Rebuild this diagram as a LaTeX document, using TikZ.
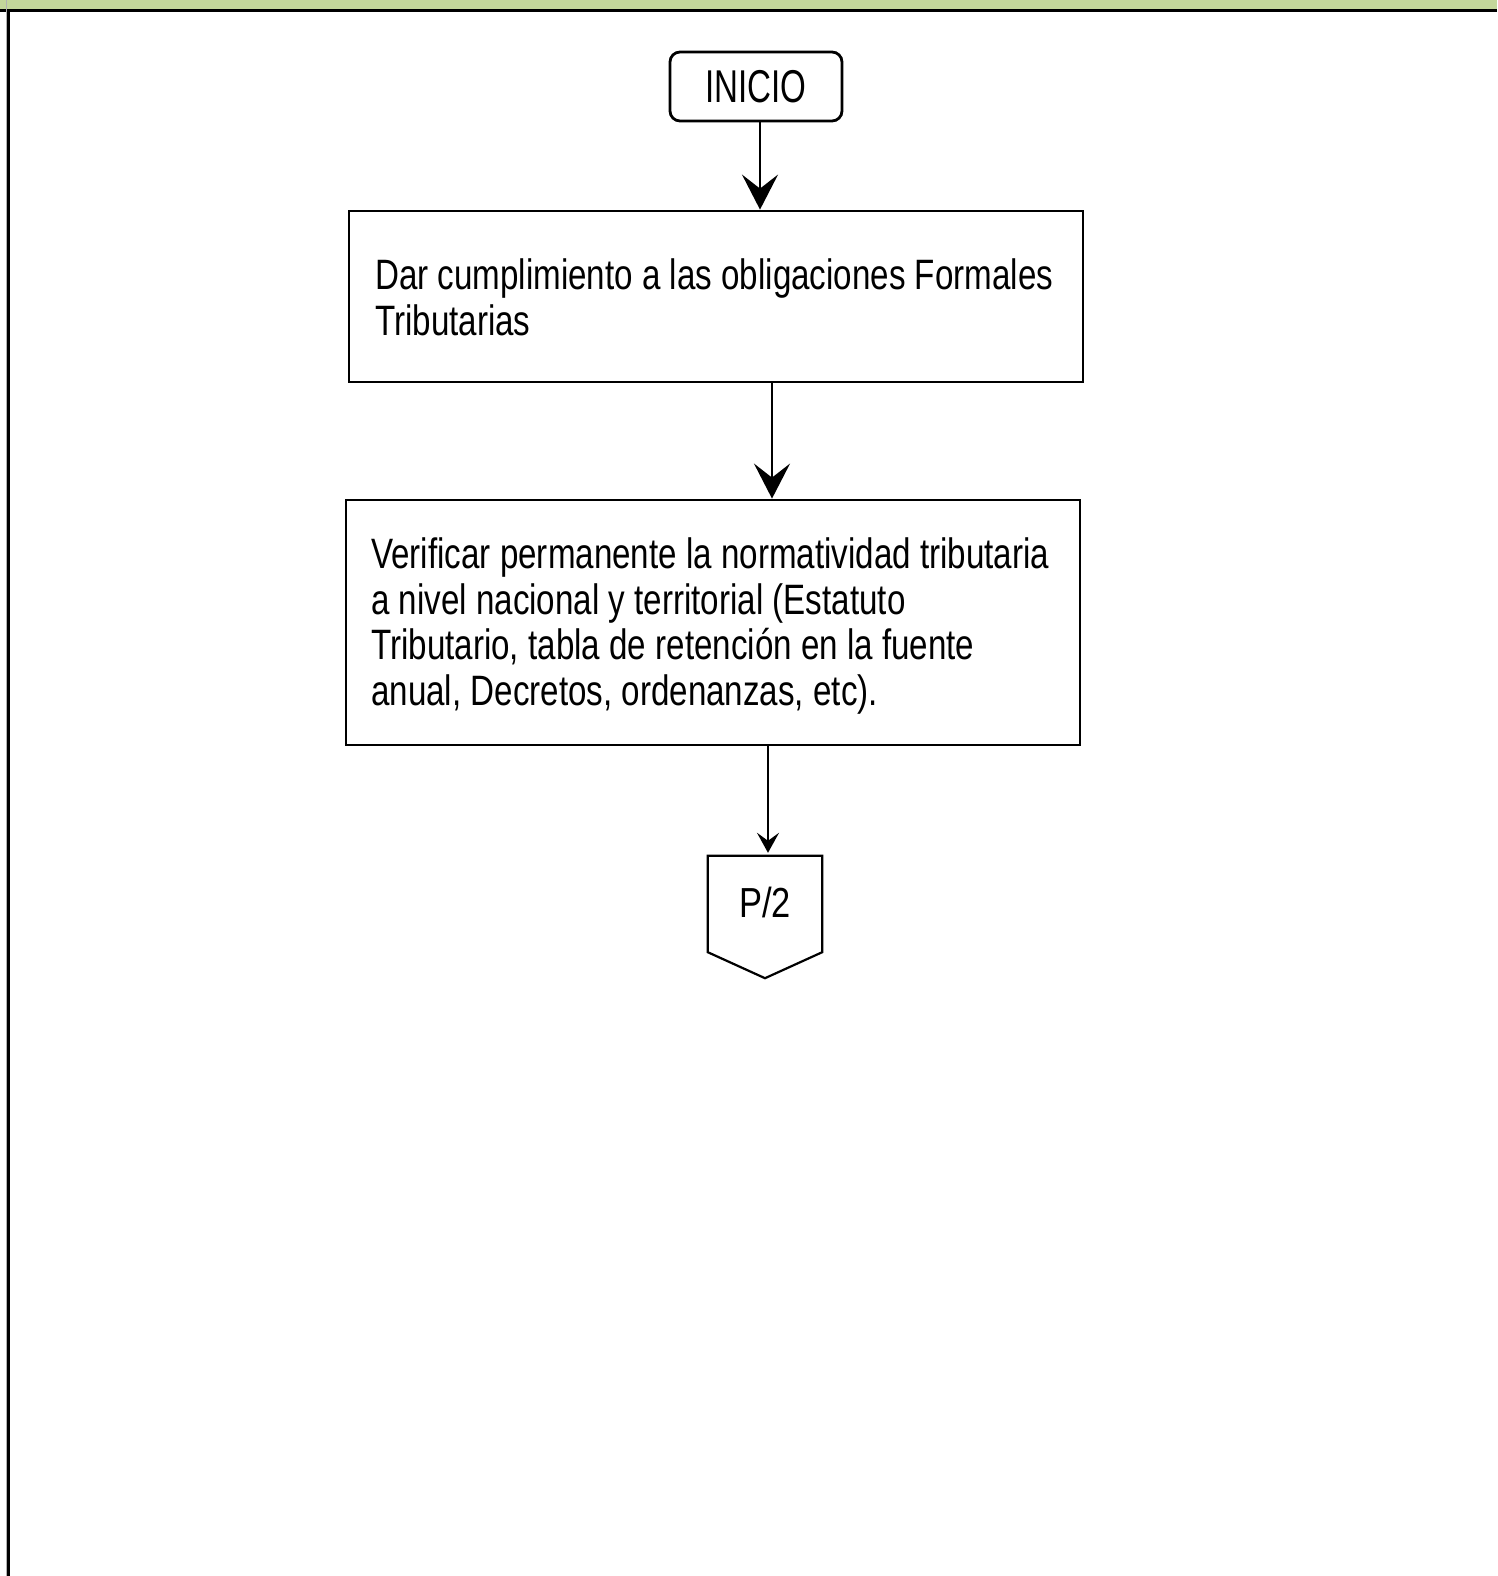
\documentclass[tikz,border=0pt]{standalone}
\usepackage{fontspec}
\usetikzlibrary{arrows.meta,calc}
\newfontfamily\boxfont[FakeStretch=0.78]{Liberation Sans}
\newfontfamily\startfont[FakeStretch=0.72]{Liberation Sans}
\newfontfamily\connfont[FakeStretch=0.82]{Liberation Sans}
\definecolor{bandgreen}{HTML}{C4D79B}
\tikzset{
  frame/.style={line width=3pt, draw=black},
  procbox/.style={draw=black, line width=2.8pt, rectangle, inner sep=0pt},
  startbox/.style={draw=black, line width=2.8pt, rectangle, rounded corners=10pt, inner sep=0pt,
    font=\startfont\fontsize{46}{50}\selectfont},
  boxtext/.style={anchor=base west, inner sep=0pt, font=\boxfont\fontsize{42.5}{46}\selectfont},
  conntext/.style={anchor=base, inner sep=0pt, font=\connfont\fontsize{42}{46}\selectfont},
  bigarrow/.style={line width=2.6pt, -{Stealth[length=35pt, width=36pt, inset=14pt]}},
  smallarrow/.style={line width=2.2pt, -{Stealth[length=20pt, width=22pt, inset=8pt]}}
}
\begin{document}
\begin{tikzpicture}[x=1pt,y=-1pt]
\useasboundingbox (0,0) rectangle (1497,1576);
% header band and frame
\fill[bandgreen] (0,0) rectangle (1497,10);
\draw[frame] (0,11) -- (1497,11);
\draw[frame] (8.5,10) -- (8.5,1576);
\draw[gray!60, line width=0.8pt] (6.3,0) -- (6.3,1576);

% nodes
\node[startbox, minimum width=172pt, minimum height=69pt] (inicio) at (756,86.5) {INICIO};
\node[procbox, minimum width=734pt, minimum height=171pt] (box1) at (716,296.5) {};
\node[procbox, minimum width=734pt, minimum height=245pt] (box2) at (713,622.5) {};
\node[inner sep=0pt, minimum width=114pt, minimum height=96pt] (p2) at (765,904) {};

% texts
\node[boxtext] (t1a) at (375,289) {Dar cumplimiento a las obligaciones Formales};
\node[boxtext] (t1b) at (375,335) {Tributarias};
\node[boxtext] (t2a) at (371,568) {Verificar permanente la normatividad tributaria};
\node[boxtext] (t2b) at (371,614) {a nivel nacional y territorial (Estatuto};
\node[boxtext] (t2c) at (371,659) {Tributario, tabla de retención en la fuente};
\node[boxtext] (t2d) at (371,705) {anual, Decretos, ordenanzas, etc).};
\node[conntext] (p2t) at (765,917) {P/2};

% off-page connector shape
\draw[line width=2.2pt, line join=miter] (p2.north west) -- (p2.north east) -- (p2.south east)
  -- ($(p2.south)+(0,26)$) -- (p2.south west) -- cycle;

% connectors
\coordinate (c1) at (760,0);
\coordinate (c2) at (772,0);
\coordinate (c3) at (768,0);
\draw[bigarrow] (inicio.south -| c1) -- (box1.north -| c1);
\draw[bigarrow] (box1.south -| c2) -- (box2.north -| c2);
\draw[smallarrow] (box2.south -| c3) -- ($(p2.north -| c3)+(0,-3)$);
\end{tikzpicture}
\end{document}
